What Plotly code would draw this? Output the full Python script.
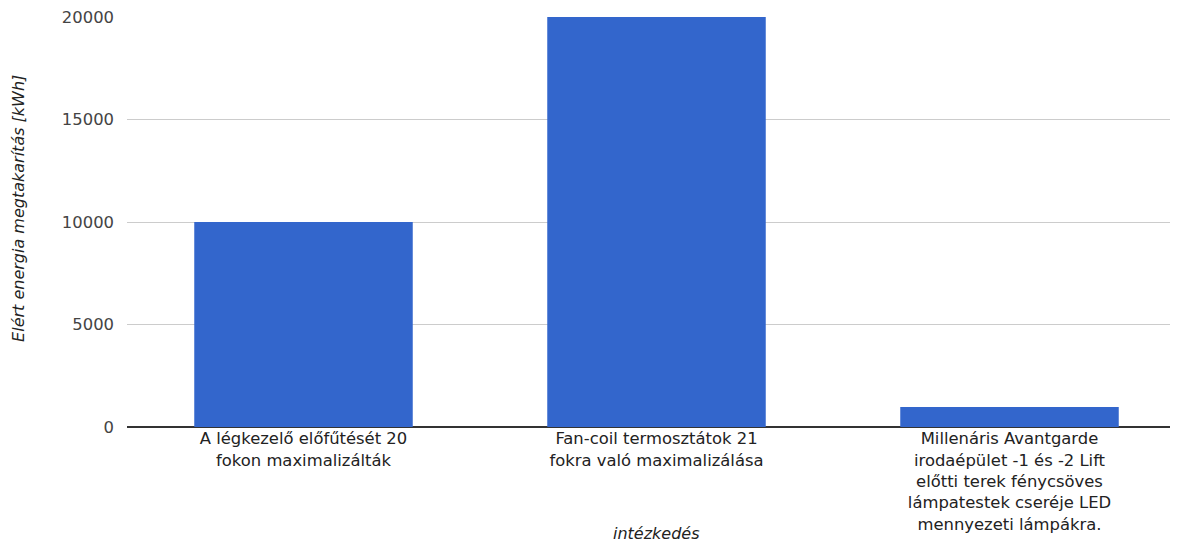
import plotly.graph_objects as go

categories = [
    "A légkezelő előfűtését 20<br>fokon maximalizálták",
    "Fan-coil termosztátok 21<br>fokra való maximalizálása",
    "Millenáris Avantgarde<br>irodaépület -1 és -2 Lift<br>előtti terek fénycsöves<br>lámpatestek cseréje LED<br>mennyezeti lámpákra.",
]
values = [10000, 20000, 970]
y_ticks = [0, 5000, 10000, 15000, 20000]
x_title = "intézkedés"
y_title = "Elért energia megtakarítás [kWh]"

fig = go.Figure(go.Bar(x=categories, y=values, marker_color="#3366CC", marker_line_width=0))

fig.update_layout(
    width=1178, height=535,
    margin=dict(l=119, r=0, t=9, b=116),
    paper_bgcolor="white", plot_bgcolor="white",
    font=dict(family="DejaVu Sans", size=16.4, color="#222222"),
    bargap=0.381,
    showlegend=False,
    annotations=[
        dict(text="<i>" + x_title + "</i>", xref="paper", yref="paper", x=0.5, y=0,
             xanchor="center", yanchor="middle", yshift=-106, showarrow=False,
             font=dict(size=16, color="#222222")),
        dict(text="<i>" + y_title + "</i>", xref="paper", yref="paper", x=0, y=0.532,
             xanchor="center", yanchor="middle", xshift=-108, textangle=-90, showarrow=False,
             font=dict(size=16, color="#222222")),
    ],
)
fig.update_xaxes(
    tickfont=dict(size=16.4, color="#222222"),
    showgrid=False, showline=False, ticks="",
    automargin=False,
)
fig.update_yaxes(
    range=[0, 20000], tickvals=y_ticks, ticktext=[str(v) for v in y_ticks],
    tickfont=dict(size=16.4, color="#444444"),
    ticklabelstandoff=12, ticklabeloverflow="allow",
    showgrid=True, gridcolor="#CCCCCC", gridwidth=1,
    zeroline=True, zerolinecolor="#333333", zerolinewidth=2,
    ticks="", automargin=False,
)
fig.write_html("out.html")
